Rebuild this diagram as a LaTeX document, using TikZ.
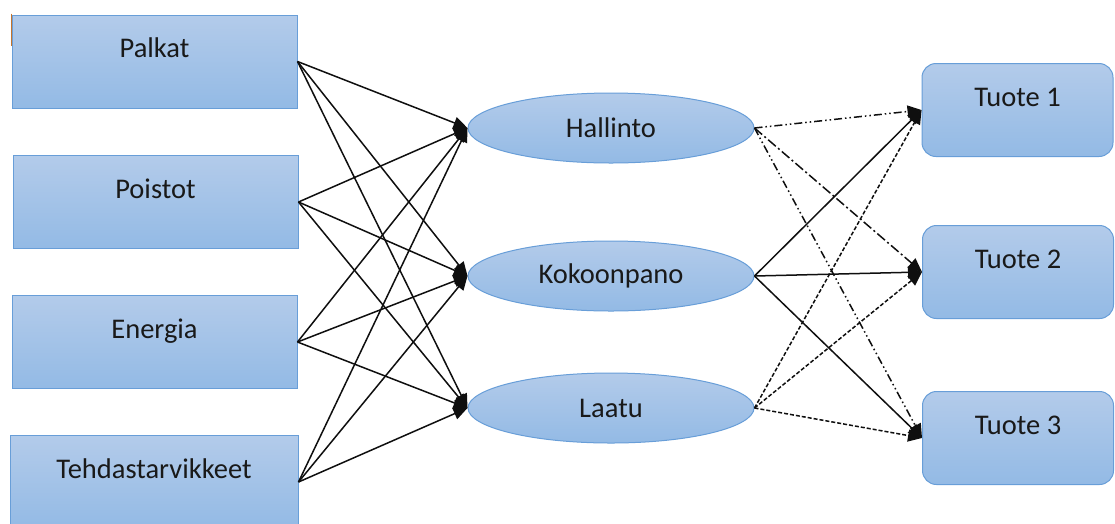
\documentclass[tikz,border=0pt]{standalone}
\usepackage{fontspec}
\setmainfont{Carlito}
\usetikzlibrary{arrows.meta,shapes.geometric}
\definecolor{boxtop}{RGB}{179,203,234}
\definecolor{boxbot}{RGB}{147,186,229}
\definecolor{boxline}{RGB}{104,158,216}
\definecolor{wire}{RGB}{15,15,15}
\definecolor{edgemark}{RGB}{196,116,46}
\begin{document}
\begin{tikzpicture}[x=1pt,y=-1pt,
  cost/.style={draw=boxline,line width=1pt,top color=boxtop,bottom color=boxbot,
    minimum width=285pt,minimum height=93pt,inner sep=0pt},
  prod/.style={cost,rounded corners=14pt,minimum width=191pt},
  dept/.style={ellipse,draw=boxline,line width=1pt,top color=boxtop,bottom color=boxbot,
    minimum width=286pt,minimum height=70pt,inner sep=0pt,
    font=\fontsize{28.5}{33}\selectfont,text=black!90},
  caption/.style={anchor=base,yshift=-43pt,font=\fontsize{28.5}{33}\selectfont,text=black!90},
  link/.style={draw=wire,line width=1.5pt,-{Triangle[length=14pt,width=12pt]}},
  dashdotdot/.style={dash pattern=on 8pt off 3pt on 1.5pt off 3pt on 1.5pt off 3pt},
  dashdot/.style={dash pattern=on 10pt off 3pt on 2pt off 3pt},
  shortdash/.style={dash pattern=on 4pt off 2pt}]
\useasboundingbox (0,0) rectangle (1115,523);
\fill[white] (0,0) rectangle (1115,523);

% cost pools
\node[cost,label={[caption]north:Palkat}] (palkat) at (154.5,61.5) {};
\node[cost,label={[caption]north:Poistot}] (poistot) at (155.5,202) {};
\node[cost,label={[caption]north:Energia}] (energia) at (154.5,342) {};
\node[cost,minimum width=288pt,label={[caption]north:Tehdastarvikkeet}] (tarvikkeet) at (154,482) {};
\draw[draw=edgemark,line width=1.5pt] ([yshift=1pt]palkat.north west) -- ++(0,32);

% departments
\node[dept] (hallinto) at (611,128) {Hallinto};
\node[dept] (kokoonpano) at (611,276) {Kokoonpano};
\node[dept] (laatu) at (611,408) {Laatu};

% products
\node[prod,label={[caption]north:Tuote 1}] (tuote1) at (1017.5,110) {};
\node[prod,label={[caption]north:Tuote 2}] (tuote2) at (1018,272) {};
\node[prod,label={[caption]north:Tuote 3}] (tuote3) at (1018,438) {};

% cost pools to departments
\foreach \src in {palkat,poistot,energia,tarvikkeet}
  \foreach \dst in {hallinto,kokoonpano,laatu}
    \draw[link] (\src.east) -- (\dst.west);

% departments to products
\draw[link,dashdotdot] (hallinto.east) -- (tuote1.west);
\draw[link,dashdot] (hallinto.east) -- (tuote2.west);
\draw[link,dashdotdot] (hallinto.east) -- (tuote3.west);
\foreach \dst in {tuote1,tuote2,tuote3}
  \draw[link] (kokoonpano.east) -- (\dst.west);
\foreach \dst in {tuote1,tuote2,tuote3}
  \draw[link,shortdash] (laatu.east) -- (\dst.west);
\end{tikzpicture}
\end{document}
